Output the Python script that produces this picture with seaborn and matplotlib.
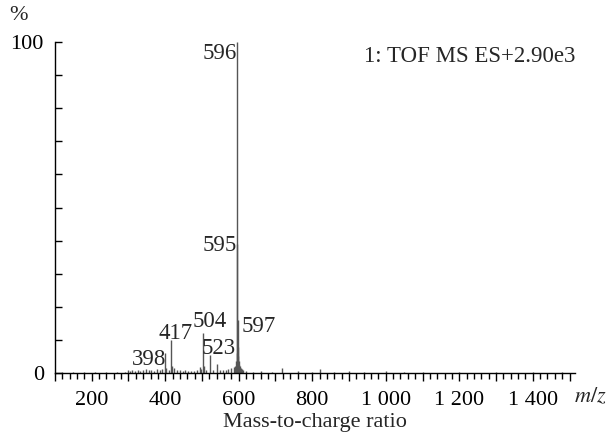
import matplotlib
matplotlib.use('Agg')
import seaborn as sns
import matplotlib.pyplot as plt
from matplotlib.ticker import MultipleLocator, FuncFormatter

# m/z values and relative intensities (%)
mz = [120, 150, 180, 210, 240, 270, 290,
      300, 305, 310, 318, 325, 332, 340, 348, 355, 362, 370, 378, 385, 391,
      398, 403, 410, 417, 419, 425, 431, 440, 447, 455, 463, 470, 478, 486,
      494, 497, 504, 506, 512, 523, 530, 540, 548, 556, 565, 572, 580, 586,
      590, 593, 594, 595, 596, 597, 598, 599, 600, 601, 603, 605, 608, 612,
      620, 640, 660, 690, 718, 760, 800, 822, 860, 900, 940, 1000, 1050,
      1100, 1200, 1300, 1400, 1480]
intensity = [0.3, 0.3, 0.4, 0.3, 0.3, 0.4, 0.3,
             0.8, 0.6, 0.9, 0.7, 1.0, 0.6, 0.9, 1.2, 0.8, 1.0, 0.7, 1.3, 0.9, 1.1,
             6.0, 1.4, 1.0, 10.0, 2.0, 1.5, 0.8, 1.0, 0.6, 0.8, 0.5, 0.7, 0.6, 0.8,
             1.8, 1.2, 12.0, 2.0, 0.8, 5.4, 1.0, 2.8, 0.8, 1.0, 0.8, 1.2, 1.5, 1.8,
             2.2, 3.5, 6.0, 39.0, 100.0, 16.0, 8.0, 5.0, 3.5, 2.5, 2.0, 1.5, 1.2, 0.8,
             0.5, 0.4, 0.5, 0.4, 1.5, 0.5, 0.4, 1.2, 0.4, 0.5, 0.3, 0.5, 0.3,
             0.4, 0.3, 0.3, 0.3, 0.3]

# labelled peaks
peak_mz = [596, 595, 597, 504, 417, 398, 523]
peak_text = ['596', '595', '597', '504', '417', '398', '523']

sns.set_style('ticks')
plt.rcParams['font.family'] = ['Liberation Serif', 'DejaVu Serif']
plt.rcParams['mathtext.fontset'] = 'stix'

fig = plt.figure(figsize=(6.15, 4.34), dpi=100)
ax = fig.add_axes([0.0894, 0.1406, 0.8456, 0.7624])

ax.vlines(mz, 0, intensity, color='#555555', linewidth=1.0)

ax.set_xlim(100, 1515)
ax.set_ylim(0, 100)
sns.despine(ax=ax)
for s in ['left', 'bottom']:
    ax.spines[s].set_color('black')
    ax.spines[s].set_linewidth(1.0)

# x ticks
ax.xaxis.set_major_locator(MultipleLocator(100))
ax.xaxis.set_minor_locator(MultipleLocator(20))
ax.xaxis.set_major_formatter(FuncFormatter(
    lambda v, p: ('{:,}'.format(int(v)).replace(',', ' ') if v % 200 == 0 else '')))
ax.tick_params(axis='x', which='major', direction='out', length=6, width=1,
               labelsize=16, pad=7, colors='black')
ax.tick_params(axis='x', which='minor', direction='out', length=4, width=1, colors='black')

# y ticks
ax.yaxis.set_major_locator(MultipleLocator(10))
ax.yaxis.set_major_formatter(FuncFormatter(
    lambda v, p: str(int(v)) if v in (0, 100) else ''))
ax.tick_params(axis='y', which='major', direction='in', length=5, width=1,
               labelsize=16, pad=8, colors='black')

# peak labels
label_pos = {
    '596': (-1.5, 93.5, 'right'),
    '595': (-1.5, 35.5, 'right'),
    '597': (12, 10.8, 'left'),
    '504': (16, 12.5, 'center'),
    '417': (10, 8.8, 'center'),
    '398': (-42, 1.0, 'center'),
    '523': (22, 4.2, 'center'),
}
for m, t in zip(peak_mz, peak_text):
    dx, y, ha = label_pos[t]
    ax.text(m + dx, y, t, ha=ha, va='bottom', fontsize=16.5)

ax.text(1.0, 0.955, '1: TOF MS ES+2.90e3', transform=ax.transAxes,
        ha='right', va='center', fontsize=16.5)
fig.text(0.03, 0.965, '%', ha='center', va='center', fontsize=16)
fig.text(0.96, 0.085, r'$m/z$', ha='center', va='center', fontsize=16)
ax.set_xlabel('Mass-to-charge ratio', fontsize=16, labelpad=2)

fig.savefig('out.png', dpi=100)
